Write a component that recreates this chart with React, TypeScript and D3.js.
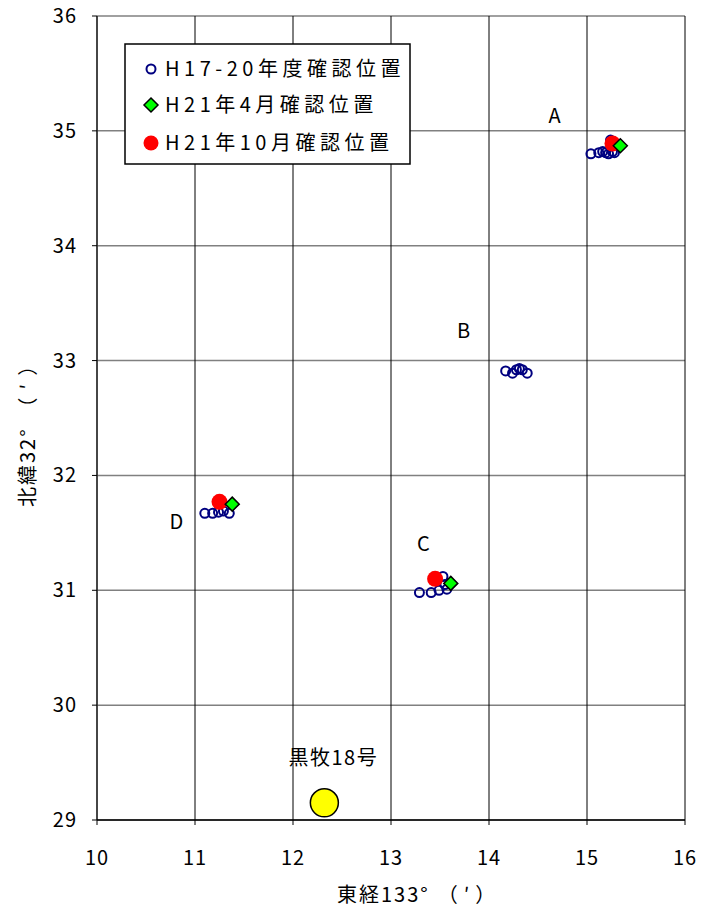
import React from "react";
import * as d3 from "d3";

const xTicks = [10, 11, 12, 13, 14, 15, 16];
const yTicks = [29, 30, 31, 32, 33, 34, 35, 36];

const pastX = [15.04, 15.12, 15.16, 15.19, 15.22, 15.26, 15.28, 15.24,
  14.17, 14.24, 14.28, 14.31, 14.34, 14.39,
  11.1, 11.18, 11.24, 11.29, 11.35,
  13.29, 13.41, 13.49, 13.55, 13.53, 13.57];
const pastY = [34.8, 34.81, 34.82, 34.81, 34.8, 34.82, 34.81, 34.92,
  32.91, 32.89, 32.92, 32.93, 32.92, 32.89,
  31.67, 31.67, 31.68, 31.69, 31.67,
  30.98, 30.98, 31.0, 31.05, 31.12, 31.01];
const aprX = [15.34, 13.61, 11.38];
const aprY = [34.87, 31.06, 31.75];
const octX = [15.26, 13.45, 11.25];
const octY = [34.89, 31.1, 31.77];
const siteX = [12.32];
const siteY = [29.15];
const siteName = ["黒牧18号"];
const ptLabels = ["A", "B", "C", "D"];
const ptLabelX = [14.67, 13.74, 13.33, 10.81];
const ptLabelY = [35.07, 33.2, 31.34, 31.535];
const legendLabels = ["H17-20年度確認位置", "H21年4月確認位置", "H21年10月確認位置"];
const xTitle = ["東経133°", "（′）"];
const yTitle = ["北緯32°", "（′）"];

const W = 706, H = 914;
const L = 97, R = 685, T = 16, B = 820;
const font = "'Noto Sans CJK JP', 'Noto Sans', sans-serif";

export default function App() {
  const x = d3.scaleLinear().domain([10, 16]).range([L, R]);
  const y = d3.scaleLinear().domain([29, 36]).range([B, T]);
  const diamond = (cx: number, cy: number, r: number) =>
    `M${cx},${cy - r}L${cx + r},${cy}L${cx},${cy + r}L${cx - r},${cy}Z`;
  return (
    <svg width={W} height={H} style={{ position: "absolute", left: 0, top: 0, background: "#fff" }}>
      <rect x={0} y={0} width={W} height={H} fill="#fff" />
      {yTicks.map((t) => (
        <line key={"h" + t} x1={L} x2={R} y1={y(t)} y2={y(t)} stroke="#808080" strokeWidth={1.5} />
      ))}
      {xTicks.map((t) => (
        <line key={"v" + t} x1={x(t)} x2={x(t)} y1={T} y2={B} stroke="#000" strokeWidth={1} />
      ))}
      <line x1={L} x2={L} y1={T} y2={B} stroke="#333" strokeWidth={1.5} />
      <line x1={L} x2={R} y1={B} y2={B} stroke="#000" strokeWidth={1.5} />
      {xTicks.map((t) => (
        <line key={"xt" + t} x1={x(t)} x2={x(t)} y1={B} y2={B + 5} stroke="#000" />
      ))}
      {yTicks.map((t) => (
        <line key={"yt" + t} x1={L - 5} x2={L} y1={y(t)} y2={y(t)} stroke="#000" />
      ))}
      {xTicks.map((t) => (
        <text key={"xl" + t} x={x(t)} y={B + 45} textAnchor="middle" fontFamily={font} fontSize={20} letterSpacing={1}>{t}</text>
      ))}
      {yTicks.map((t) => (
        <text key={"yl" + t} x={L - 20} y={y(t) + 7} textAnchor="end" fontFamily={font} fontSize={20} letterSpacing={1}>{t}</text>
      ))}
      <text x={337} y={902} fontFamily={font} fontSize={20}>
        <tspan letterSpacing={2}>{xTitle[0]}</tspan>
        <tspan dx={8} letterSpacing={6}>{xTitle[1]}</tspan>
      </text>
      <text transform={`translate(35,507) rotate(-90)`} fontFamily={font} fontSize={20}>
        <tspan letterSpacing={2}>{yTitle[0]}</tspan>
        <tspan dx={10} letterSpacing={8}>{yTitle[1]}</tspan>
      </text>

      {pastX.map((v, i) => (
        <circle key={"p" + i} cx={x(v)} cy={y(pastY[i])} r={4.5} fill="none" stroke="#000080" strokeWidth={2} />
      ))}
      {octX.map((v, i) => (
        <circle key={"o" + i} cx={x(v)} cy={y(octY[i])} r={8} fill="#ff0000" />
      ))}
      {aprX.map((v, i) => (
        <path key={"a" + i} d={diamond(x(v), y(aprY[i]), 7)} fill="#00ff00" stroke="#000" strokeWidth={1.5} />
      ))}
      {siteX.map((v, i) => (
        <g key={"s" + i}>
          <circle cx={x(v)} cy={y(siteY[i])} r={14} fill="#ffff00" stroke="#000" strokeWidth={1.5} />
          <text x={x(v) + 9} y={y(siteY[i]) - 38} textAnchor="middle" fontFamily={font} fontSize={20} letterSpacing={1.5}>{siteName[i]}</text>
        </g>
      ))}
      {ptLabels.map((s, i) => (
        <text key={"l" + s} x={x(ptLabelX[i])} y={y(ptLabelY[i])} textAnchor="middle" fontFamily={font} fontSize={20}>{s}</text>
      ))}

      <rect x={125} y={44} width={285} height={120} fill="#fff" stroke="#000" strokeWidth={1.5} />
      <circle cx={151} cy={69} r={4.5} fill="none" stroke="#000080" strokeWidth={2} />
      <path d={diamond(151, 105, 7)} fill="#00ff00" stroke="#000" strokeWidth={1.5} />
      <circle cx={151} cy={143} r={7.5} fill="#ff0000" />
      {legendLabels.map((s, i) => (
        <text key={"lg" + i} x={165} y={[76, 112, 150][i]} fontFamily={font} fontSize={20} letterSpacing={4.5}>{s}</text>
      ))}
    </svg>
  );
}
